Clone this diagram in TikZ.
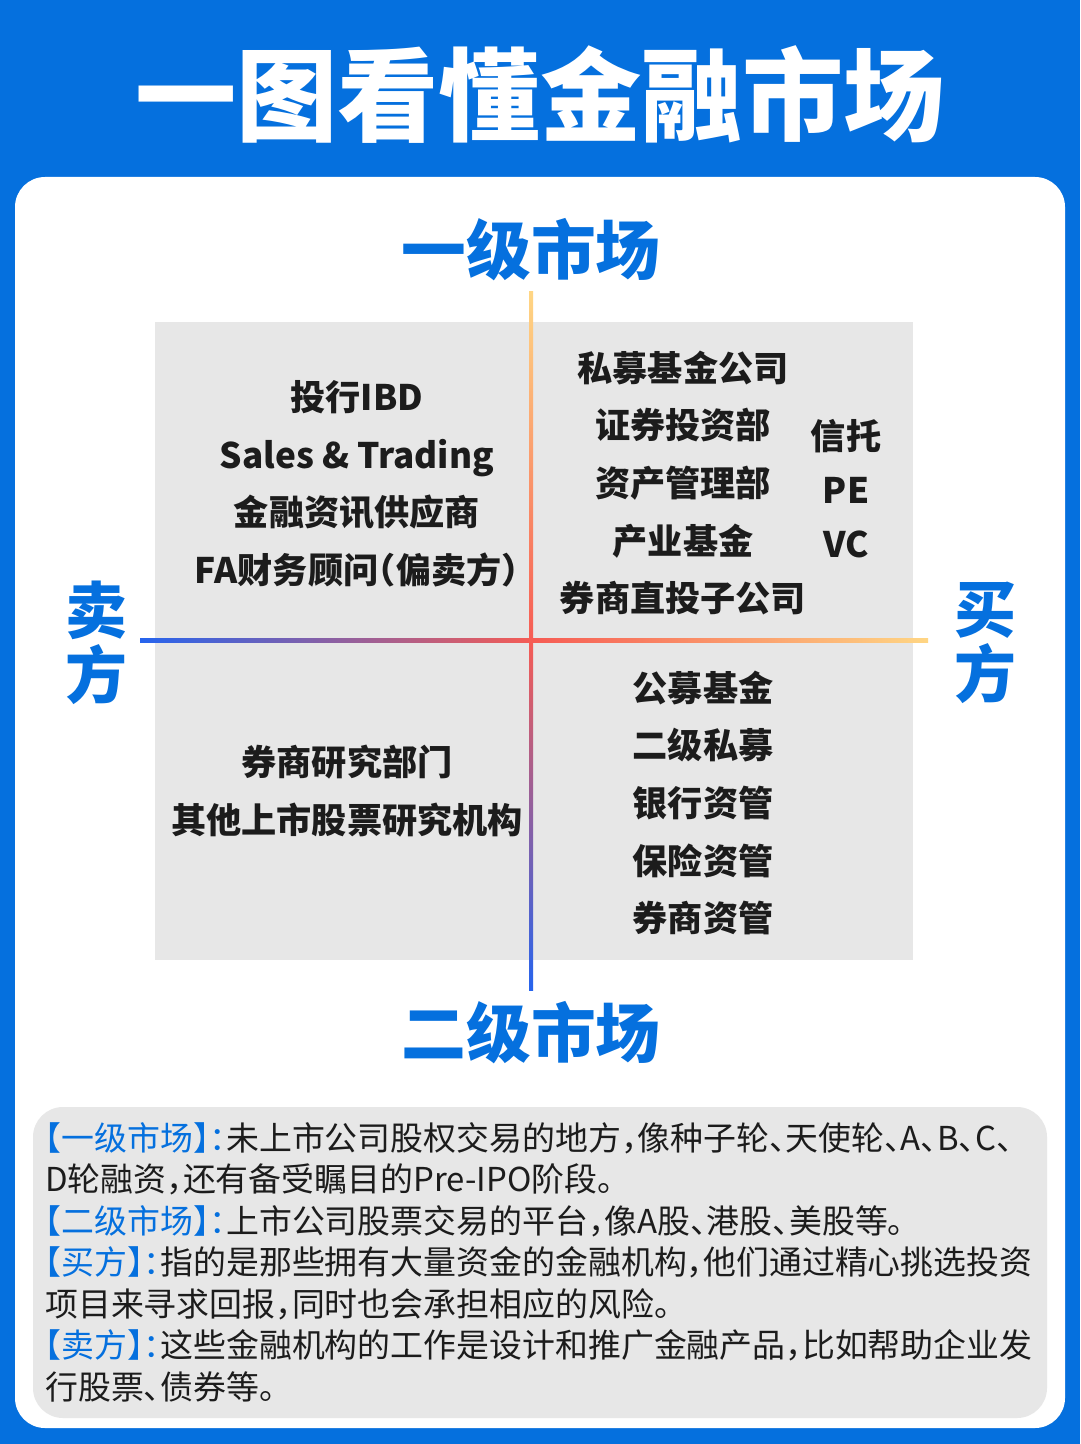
\documentclass[tikz,border=0pt]{standalone}
\usepackage{fontspec}
\usepackage{tikz}
\usetikzlibrary{positioning, calc}
\setmainfont{Noto Sans CJK SC}[RawFeature=+halt]
\definecolor{mainblue}{RGB}{5, 112, 222}
\definecolor{panelgrey}{RGB}{231, 231, 231}
\definecolor{inkdark}{RGB}{28, 28, 28}
\definecolor{axisblue}{RGB}{38, 100, 238}
\definecolor{axisred}{RGB}{246, 92, 84}
\definecolor{axisyellow}{RGB}{255, 214, 132}
\tikzset{
  headtext/.style={font=\fontsize{46}{50}\selectfont\bfseries, text=mainblue},
  sidetext/.style={font=\fontsize{44}{46.5}\selectfont\bfseries, text=mainblue, align=center},
  quadtext/.style={font=\fontsize{25}{41}\selectfont\bfseries, text=inkdark, align=center},
  notetext/.style={font=\fontsize{23.4}{29.5}\selectfont, text=inkdark, align=left, inner sep=0pt},
  tag/.style={text=mainblue}
}

\begin{document}
\begin{tikzpicture}[x=0.025cm, y=-0.025cm]
    % Pixel grid of the poster
    \def\xMid{531}
    \def\yMid{640}
    \def\xL{357}
    \def\xR{683}

    \useasboundingbox (0,0) rectangle (1080,1444);
    \fill[mainblue] (0,0) rectangle (1080,1444);

    % Title
    \node[text=white, font=\fontsize{72}{76}\selectfont\bfseries] (title) at (540, 95) {一图看懂金融市场};

    % Panels
    \fill[white, rounded corners=0.75cm] (15,177) rectangle (1065,1428);
    \fill[panelgrey] (155,322) rectangle (913,960);
    \fill[panelgrey, rounded corners=0.75cm] (33,1107) rectangle (1047,1418);

    % Axes
    \shade[left color=axisblue, right color=axisyellow, middle color=axisred] (140,638) rectangle (928,642);
    \shade[top color=axisyellow, bottom color=axisblue, middle color=axisred] (529,292) rectangle (533,990);

    % Axis labels
    \node[headtext] (primary) at (\xMid, 250) {一级市场};
    \node[headtext] (secondary) at (\xMid, 1033) {二级市场};
    \node[sidetext] (seller) at (96, 643) {卖\\方};
    \node[sidetext] (buyer) at (985, 643) {买\\方};

    % Quadrants
    \node[quadtext] (sellprimary) at (\xL, 484) {投行IBD\\Sales \& Trading\\金融资讯供应商\\FA财务顾问（偏卖方）};
    \node[quadtext] (buyprimary) at (\xR, 483) {私募基金公司\\证券投资部\\资产管理部\\产业基金\\券商直投子公司};
    \node[quadtext, font=\fontsize{25}{38.5}\selectfont\bfseries] (buytrust) at (846, 489) {信托\\PE\\VC};
    \node[quadtext] (sellsecondary) at (347, 791) {券商研究部门\\其他上市股票研究机构};
    \node[quadtext] (buysecondary) at (703, 803) {公募基金\\二级私募\\银行资管\\保险资管\\券商资管};

    % Notes
    \node[notetext, anchor=west] (note) at (45, 1262) {%
      \textcolor{mainblue}{【一级市场】：}未上市公司股权交易的地方，像种子轮、天使轮、A、B、C、\\
      D轮融资，还有备受瞩目的Pre-IPO阶段。\\
      \textcolor{mainblue}{【二级市场】：}上市公司股票交易的平台，像A股、港股、美股等。\\
      \textcolor{mainblue}{【买方】：}指的是那些拥有大量资金的金融机构，他们通过精心挑选投资\\
      项目来寻求回报，同时也会承担相应的风险。\\
      \textcolor{mainblue}{【卖方】：}这些金融机构的工作是设计和推广金融产品，比如帮助企业发\\
      行股票、债券等。};
\end{tikzpicture}
\end{document}
